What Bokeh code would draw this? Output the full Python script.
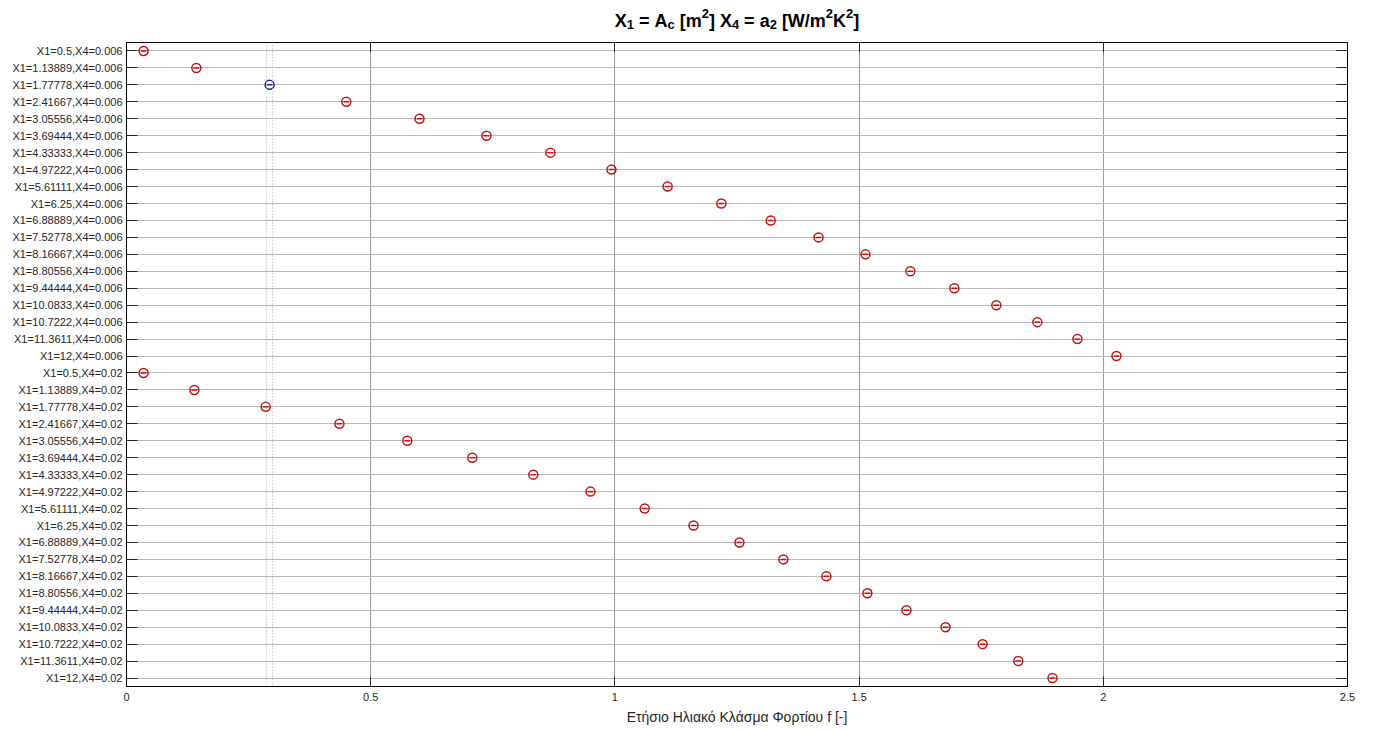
from bokeh.plotting import figure
from bokeh.layouts import column
from bokeh.models import (FactorRange, Range1d, CategoricalAxis, LinearAxis,
                          Span, ColumnDataSource, FixedTicker, CustomLabelingPolicy)
from bokeh.core.properties import value
from bokeh.embed import file_html
from bokeh.resources import INLINE

# ---------------- data ----------------
x1_values = ["0.5", "1.13889", "1.77778", "2.41667", "3.05556", "3.69444", "4.33333",
             "4.97222", "5.61111", "6.25", "6.88889", "7.52778", "8.16667", "8.80556",
             "9.44444", "10.0833", "10.7222", "11.3611", "12"]
x4_values = ["0.006", "0.02"]

f_x4_0006 = [0.035, 0.143, 0.293, 0.450, 0.600, 0.737, 0.868, 0.993, 1.108, 1.218,
             1.319, 1.417, 1.513, 1.605, 1.695, 1.781, 1.865, 1.947, 2.027]
f_x4_0020 = [0.035, 0.139, 0.285, 0.436, 0.575, 0.708, 0.833, 0.950, 1.061, 1.161,
             1.255, 1.345, 1.433, 1.517, 1.597, 1.677, 1.753, 1.826, 1.896]
ci_half = 0.006          # half width of the comparison interval
selected_index = 2       # highlighted group (blue)

x_ticks = [0, 0.5, 1, 1.5, 2, 2.5]
x_tick_labels = ["0", "0.5", "1", "1.5", "2", "2.5"]

NB = "\u00a0"
title_pieces = [("X", "n"), ("1", "sub"), (NB + "=" + NB + "A", "n"), ("c", "sub"),
                (NB + "[m", "n"), ("2", "sup"), ("]" + NB + "X", "n"), ("4", "sub"),
                (NB + "=" + NB + "a", "n"), ("2", "sub"), (NB + "[W/m", "n"), ("2", "sup"),
                ("K", "n"), ("2", "sup"), ("]", "n")]
x_label = "Ετήσιο Ηλιακό Κλάσμα Φορτίου f [-]"

# ---------------- build ----------------
labels = [f"X1={a},X4={b}" for b in x4_values for a in x1_values]
vals = f_x4_0006 + f_x4_0020
RED = "#c01212"
BLUE = "#2323a8"
colors = [BLUE if i == selected_index else RED for i in range(len(labels))]
src = ColumnDataSource(dict(label=labels, f=vals,
                            lo=[v - ci_half for v in vals], hi=[v + ci_half for v in vals],
                            color=colors))

FONT = "Liberation Sans"
W = 1373
TITLE_H = 42
MAIN_H = 732 - TITLE_H
ML, MR, MB = 126, 26, 46

# ---------- title strip ----------
MAIN, SMALL = 18, 13
adv = {"X": 667, "1": 556, "2": 556, "4": 556, "c": 556, NB: 278, "=": 584, "A": 722,
       "[": 333, "]": 333, "m": 889, "a": 556, "W": 944, "/": 278, "K": 722}
def width(txt, size):
    return sum(adv[c] for c in txt) * size / 1000.0

total = sum(width(t, MAIN if k == "n" else SMALL) for t, k in title_pieces)
center = ML + (W - ML - MR) / 2
base = TITLE_H - 20
tx, ty, tt, ts = [], [], [], []
xc = center - total / 2
for t, k in title_pieces:
    size = MAIN if k == "n" else SMALL
    tx.append(xc)
    ty.append(base + {"n": 0, "sub": -4, "sup": 7}[k])
    tt.append(t)
    ts.append(f"{size}px")
    xc += width(t, size)

# title strip's frame is aligned with the main plot's frame, so map pixels 1:1
tp = figure(width=W, height=TITLE_H, x_range=Range1d(ML, W - MR), y_range=Range1d(0, TITLE_H),
            output_backend="svg", toolbar_location=None, min_border=0,
            min_border_left=ML, min_border_right=MR)
tp.axis.visible = False
tp.grid.visible = False
tp.outline_line_color = None
tp.text(x=tx, y=ty, text=tt, text_font=value(FONT), text_font_size=ts,
        text_font_style="bold", text_color="black", text_baseline="alphabetic",
        text_align="left")

# ---------- main plot ----------
p = figure(width=W, height=MAIN_H, y_range=FactorRange(factors=labels[::-1]),
           x_range=Range1d(0, 2.5), output_backend="svg", toolbar_location=None,
           min_border_left=ML, min_border_right=MR, min_border_top=0, min_border_bottom=MB,
           x_axis_label=x_label)
p.outline_line_color = "black"
p.outline_line_width = 1

p.ygrid.grid_line_color = "#b8b8b8"
p.xgrid.grid_line_color = "#9a9a9a"
p.xgrid.ticker = FixedTicker(ticks=x_ticks)

xa = p.xaxis[0]
xa.ticker = FixedTicker(ticks=x_ticks)
xa.major_label_overrides = {t: s for t, s in zip(x_ticks, x_tick_labels)}
xa.major_tick_in = 10
xa.major_tick_out = 0
xa.minor_tick_in = 0
xa.minor_tick_out = 0
xa.major_tick_line_color = "#262626"
xa.axis_line_color = "black"
xa.major_label_text_font = FONT
xa.major_label_text_font_size = "11px"
xa.major_label_text_color = "#262626"
xa.major_label_standoff = 6
xa.axis_label_text_font = FONT
xa.axis_label_text_font_size = "14px"
xa.axis_label_text_font_style = "normal"
xa.axis_label_text_color = "#262626"
xa.axis_label_standoff = 5

ya = p.yaxis[0]
ya.major_tick_in = 11
ya.major_tick_out = 0
ya.major_tick_line_color = "#262626"
ya.axis_line_color = "black"
ya.major_label_text_font = FONT
ya.major_label_text_font_size = "11px"
ya.major_label_text_color = "#262626"
ya.major_label_standoff = 4

hide_code = "const n = indices.size; for (let i = 0; i < n; i++) { indices.unset(i) } return indices"
ra = CategoricalAxis(major_tick_in=11, major_tick_out=0, axis_line_color="black",
                     major_tick_line_color="#262626", major_label_standoff=0,
                     major_label_text_font_size="1px",
                     major_label_overrides={lab: "" for lab in labels},
                     major_label_policy=CustomLabelingPolicy(code=hide_code))
p.add_layout(ra, "right")
ta = LinearAxis(ticker=FixedTicker(ticks=x_ticks), major_tick_in=10, major_tick_out=0,
                minor_tick_in=0, minor_tick_out=0, axis_line_color="black",
                major_tick_line_color="#262626", major_label_standoff=0,
                major_label_text_font_size="1px",
                major_label_overrides={t: "" for t in x_ticks},
                major_label_policy=CustomLabelingPolicy(code=hide_code))
p.add_layout(ta, "above")

sel = vals[selected_index]
for loc in (sel - ci_half, sel + ci_half):
    p.add_layout(Span(location=loc, dimension="height", line_color="#aaaaaa",
                      line_dash="1 2", line_width=1))

p.segment(x0="lo", y0="label", x1="hi", y1="label", source=src,
          line_color="color", line_width=1.5)
p.scatter(x="f", y="label", source=src, marker="circle", size=9,
          fill_color=None, line_color="color", line_width=1.5)

layout = column(tp, p, spacing=0)
open("out.html", "w").write(file_html(layout, INLINE))
